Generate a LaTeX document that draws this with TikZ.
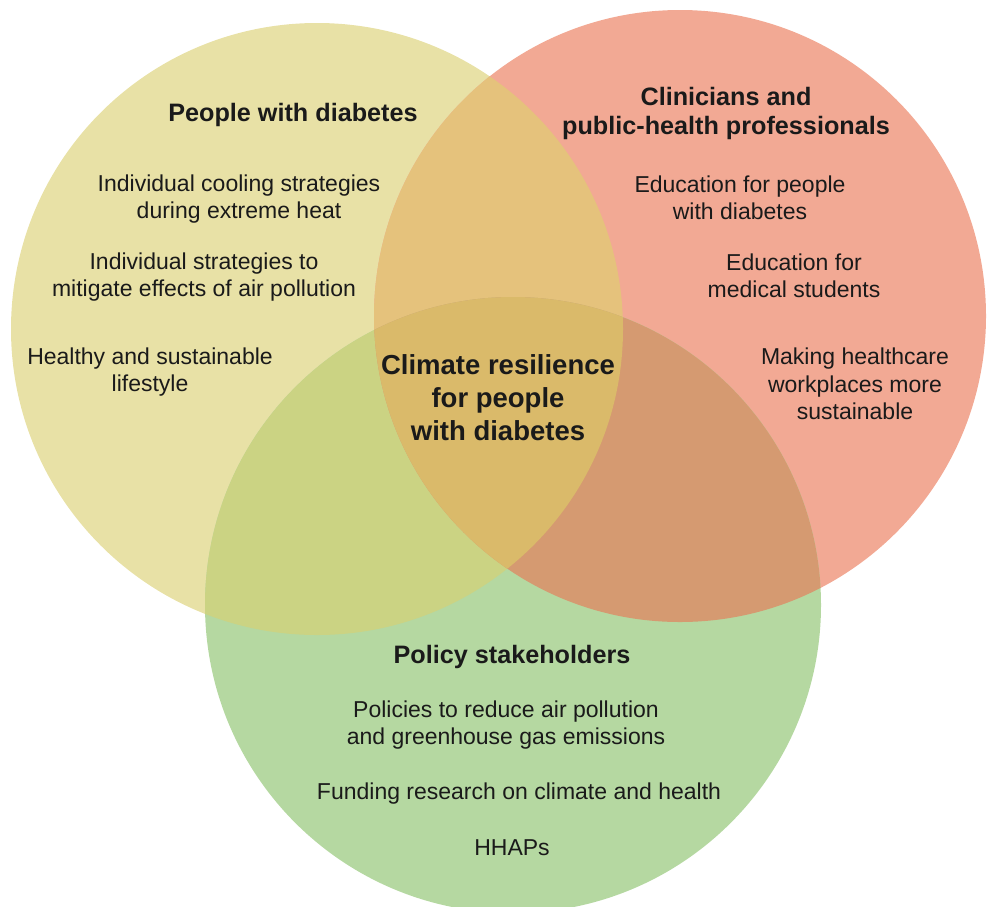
\documentclass[tikz,border=0pt]{standalone}
\usepackage{fontspec}
\setmainfont{Liberation Sans}
\definecolor{cyel}{HTML}{E8E1A6}
\definecolor{csal}{HTML}{F2A994}
\definecolor{cgrn}{HTML}{B5D8A1}
\definecolor{cys}{HTML}{E5C27C}
\definecolor{cyg}{HTML}{CBD383}
\definecolor{csg}{HTML}{D59A71}
\definecolor{cysg}{HTML}{DABA6A}
\definecolor{ink}{HTML}{1A1A1A}
\tikzset{
  item/.style={align=center, text=ink, inner sep=0pt,
    font=\fontsize{23}{27.5}\selectfont},
  heading/.style={align=center, text=ink, inner sep=0pt,
    font=\fontsize{25.2}{29}\selectfont\bfseries},
  core/.style={align=center, text=ink, inner sep=0pt,
    font=\fontsize{27.5}{33}\selectfont\bfseries},
}
\begin{document}
\begin{tikzpicture}[x=1pt,y=-1pt]
  \useasboundingbox (0,0) rectangle (987,906);
  \clip (0,0) rectangle (987,906);
  % circle centres and radii
  \coordinate (Y) at (317,329);
  \coordinate (S) at (680,316);
  \coordinate (G) at (513,605);
  \def\ry{306}
  \def\rs{306}
  \def\rg{308}
  % single sets
  \fill[cyel] (Y) circle[radius=\ry];
  \fill[csal] (S) circle[radius=\rs];
  \fill[cgrn] (G) circle[radius=\rg];
  % pairwise overlaps
  \begin{scope}
    \clip (Y) circle[radius=\ry];
    \fill[cys] (S) circle[radius=\rs];
    \fill[cyg] (G) circle[radius=\rg];
  \end{scope}
  \begin{scope}
    \clip (S) circle[radius=\rs];
    \fill[csg] (G) circle[radius=\rg];
    % triple overlap
    \clip (G) circle[radius=\rg];
    \fill[cysg] (Y) circle[radius=\ry];
  \end{scope}

  % people with diabetes
  \node[heading] (pwdT) at (293,115) {People with diabetes};
  \node[item] (pwd1) at (239,199) {Individual cooling strategies\\during extreme heat};
  \node[item] (pwd2) at (204,277) {Individual strategies to\\mitigate effects of air pollution};
  \node[item] (pwd3) at (150,372) {Healthy and sustainable\\lifestyle};

  % clinicians
  \node[heading] (clT) at (726,113) {Clinicians and\\public-health professionals};
  \node[item] (cl1) at (740,198) {Education for people\\with diabetes};
  \node[item] (cl2) at (794,276) {Education for\\medical students};
  \node[item] (cl3) at (855,384) {Making healthcare\\workplaces more\\sustainable};

  % centre
  \node[core] (mid) at (498,398) {Climate resilience\\for people\\with diabetes};

  % policy stakeholders
  \node[heading] (poT) at (512,657) {Policy stakeholders};
  \node[item] (po1) at (506,725) {Policies to reduce air pollution\\and greenhouse gas emissions};
  \node[item] (po2) at (519,794) {Funding research on climate and health};
  \node[item] (po3) at (512,848) {HHAPs};
\end{tikzpicture}
\end{document}
